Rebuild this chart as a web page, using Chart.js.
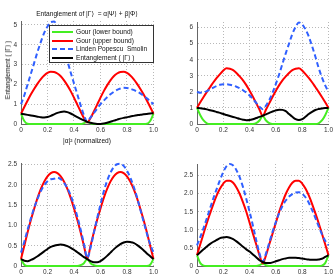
<!DOCTYPE html>
<html><head><meta charset="utf-8">
<script src="https://cdn.jsdelivr.net/npm/chart.js@4.4.1/dist/chart.umd.min.js"></script>
<style>
html,body{margin:0;padding:0;background:#fff;}
body{width:335px;height:275px;position:relative;overflow:hidden;font-family:"Liberation Sans",Arial,"DejaVu Sans",sans-serif;}
canvas{position:absolute;}
.t{position:absolute;white-space:nowrap;color:#111;font-size:6.6px;line-height:8px;}
#legend{position:absolute;left:49px;top:25px;width:103px;height:36px;border:1px solid #333;background:#fff;}
.li{position:absolute;left:0;height:8px;width:103px;}
.li svg{position:absolute;left:2px;top:0;}
.li span{position:absolute;left:26px;top:0;font-size:6.6px;line-height:8px;color:#111;white-space:nowrap;}
</style></head><body>
<canvas id="c0" width="160" height="140" style="left:0;top:0"></canvas>
<canvas id="c1" width="159" height="140" style="left:176px;top:0"></canvas>
<canvas id="c2" width="160" height="130" style="left:0;top:145px"></canvas>
<canvas id="c3" width="159" height="130" style="left:176px;top:145px"></canvas>

<div class="t" id="title" style="left:87px;top:10px;transform:translateX(-50%);">Entanglement of |Γ⟩ &nbsp;= α|Ψ⟩ + β|Φ⟩</div>
<div class="t" id="ylab" style="left:8px;top:70px;transform:translate(-50%,-50%) rotate(-90deg);">Entanglement ( |Γ⟩ )</div>
<div class="t" id="xlab" style="left:87px;top:137px;transform:translateX(-50%);">|α|² (normalized)</div>

<div id="legend">
  <div class="li" style="top:2px"><svg width="22" height="8"><line x1="0" y1="4" x2="21" y2="4" stroke="#44ee22" stroke-width="2"/></svg><span>Gour (lower bound)</span></div>
  <div class="li" style="top:10.5px"><svg width="22" height="8"><line x1="0" y1="4" x2="21" y2="4" stroke="#ff0000" stroke-width="2"/></svg><span>Gour (upper bound)</span></div>
  <div class="li" style="top:19px"><svg width="22" height="8"><line x1="0" y1="4" x2="21" y2="4" stroke="#3060ff" stroke-width="2" stroke-dasharray="5,3"/></svg><span>Linden Popescu &nbsp;Smolin</span></div>
  <div class="li" style="top:27.5px"><svg width="22" height="8"><line x1="0" y1="4" x2="21" y2="4" stroke="#000" stroke-width="2"/></svg><span>Entanglement ( |Γ⟩ )</span></div>
</div>

<script>
// x values: |alpha|^2 (normalized)
const alphaSq = [0,0.025,0.05,0.075,0.1,0.125,0.15,0.175,0.2,0.225,0.25,0.275,0.3,0.325,0.35,0.375,0.4,0.425,0.45,0.475,0.5,
  0.525,0.55,0.575,0.6,0.625,0.65,0.675,0.7,0.725,0.75,0.775,0.8,0.825,0.85,0.875,0.9,0.925,0.95,0.975,1];
const xTicks = [0,0.2,0.4,0.6,0.8,1];
const seriesNames = ['Gour (lower bound)','Gour (upper bound)','Linden Popescu  Smolin','Entanglement ( |Γ⟩ )'];

// ---- Top-left panel ----
const tlLower = [0.52,0.15,0.01,0,0,0,0,0,0,0,0,0,0,0,0,0,0,0,0,0.04,0.1,
  0.04,0,0,0,0,0,0,0,0,0,0,0,0,0,0,0,0,0.01,0.15,0.52];
const tlUpper = [0.52,0.86,1.19,1.5,1.78,2.04,2.27,2.45,2.58,2.64,2.63,2.55,2.41,2.2,1.95,1.66,1.33,0.98,0.63,0.3,0.08,
  0.3,0.63,0.98,1.33,1.66,1.95,2.2,2.41,2.55,2.63,2.64,2.58,2.45,2.27,2.04,1.78,1.5,1.19,0.86,0.52];
const tlLPS = [1.0,1.45,2.0,2.55,3.1,3.65,4.15,4.6,4.92,5.15,5.17,4.9,4.45,3.85,3.2,2.6,2.05,1.5,0.95,0.45,0.12,
  0.33,0.55,0.78,1.0,1.18,1.35,1.5,1.62,1.72,1.79,1.83,1.82,1.78,1.72,1.64,1.55,1.43,1.3,1.15,1.0];
const tlEnt = [0.52,0.49,0.46,0.43,0.4,0.37,0.34,0.33,0.35,0.41,0.49,0.56,0.61,0.63,0.6,0.53,0.44,0.35,0.26,0.18,0.11,
  0.06,0.02,0,0,0.02,0.06,0.11,0.17,0.22,0.27,0.31,0.34,0.38,0.41,0.44,0.47,0.49,0.51,0.53,0.54];

// ---- Top-right panel ----
const trLower = [1.0,0.55,0.22,0.04,0,0,0,0,0,0,0,0,0,0,0,0,0,0,0.05,0.22,0.5,
  0.22,0.05,0,0,0,0,0,0,0,0,0,0,0,0,0,0,0.04,0.22,0.55,1.0];
const trUpper = [1.0,1.35,1.68,2.0,2.3,2.6,2.87,3.1,3.33,3.47,3.44,3.35,3.18,2.96,2.72,2.42,2.07,1.7,1.3,0.9,0.5,
  0.9,1.3,1.7,2.07,2.42,2.72,2.96,3.18,3.35,3.44,3.47,3.33,3.1,2.87,2.6,2.3,2.0,1.68,1.35,1.0];
const trLPS = [2.0,1.95,1.97,2.05,2.15,2.27,2.37,2.44,2.47,2.47,2.44,2.39,2.32,2.22,2.1,1.95,1.78,1.56,1.32,1.08,0.92,
  1.15,1.5,1.95,2.5,3.1,3.75,4.4,5.0,5.6,6.05,6.32,6.2,5.9,5.45,4.85,4.2,3.5,2.9,2.4,2.0];
const trEnt = [1.0,0.98,0.95,0.91,0.86,0.81,0.75,0.69,0.62,0.56,0.5,0.44,0.38,0.32,0.27,0.24,0.25,0.3,0.37,0.44,0.52,
  0.6,0.69,0.78,0.85,0.89,0.88,0.8,0.62,0.45,0.3,0.25,0.3,0.45,0.62,0.76,0.87,0.93,0.97,0.99,1.0];

// ---- Bottom-left panel ----
const blLower = [0.17,0.03,0,0,0,0,0,0,0,0,0,0,0,0,0,0,0,0,0.02,0.07,0.17,
  0.07,0.02,0,0,0,0,0,0,0,0,0,0,0,0,0,0,0,0,0.03,0.17];
const blUpper = [0.17,0.5,0.83,1.14,1.42,1.68,1.9,2.08,2.21,2.29,2.32,2.29,2.21,2.08,1.9,1.68,1.42,1.14,0.83,0.5,0.17,
  0.5,0.83,1.14,1.42,1.68,1.9,2.08,2.21,2.29,2.32,2.29,2.21,2.08,1.9,1.68,1.42,1.14,0.83,0.5,0.17];
const blLPS = [0.33,0.6,0.9,1.18,1.44,1.66,1.85,1.99,2.09,2.14,2.15,2.18,2.14,2.05,1.92,1.74,1.5,1.22,0.9,0.55,0.2,
  0.45,0.82,1.18,1.52,1.84,2.1,2.3,2.44,2.51,2.52,2.47,2.35,2.18,1.96,1.7,1.4,1.1,0.8,0.54,0.33];
const blEnt = [0.17,0.13,0.12,0.15,0.19,0.24,0.3,0.36,0.42,0.47,0.5,0.52,0.53,0.52,0.49,0.45,0.4,0.34,0.28,0.22,0.17,
  0.12,0.09,0.09,0.12,0.18,0.25,0.33,0.41,0.48,0.54,0.58,0.6,0.59,0.57,0.52,0.46,0.39,0.31,0.24,0.17];

// ---- Bottom-right panel ----
const brLower = [0.3,0.08,0.01,0,0,0,0,0,0,0,0,0,0,0,0,0,0,0,0,0.02,0.07,
  0.02,0,0,0,0,0,0,0,0,0,0,0,0,0,0,0,0,0.01,0.08,0.3];
const brUpper = [0.3,0.6,0.9,1.19,1.46,1.72,1.95,2.14,2.28,2.36,2.36,2.3,2.17,1.99,1.76,1.5,1.2,0.9,0.6,0.3,0.07,
  0.3,0.6,0.9,1.2,1.5,1.76,1.99,2.17,2.3,2.36,2.36,2.28,2.14,1.95,1.72,1.46,1.19,0.9,0.6,0.3];
const brLPS = [0.57,0.8,1.05,1.32,1.6,1.88,2.13,2.38,2.6,2.76,2.82,2.78,2.65,2.45,2.18,1.85,1.5,1.12,0.72,0.35,0.12,
  0.35,0.65,0.95,1.22,1.46,1.66,1.81,1.92,1.99,2.03,2.04,2.0,1.9,1.75,1.55,1.33,1.1,0.88,0.7,0.57];
const brEnt = [0.3,0.38,0.46,0.54,0.61,0.67,0.72,0.77,0.79,0.8,0.78,0.74,0.68,0.61,0.53,0.46,0.4,0.32,0.24,0.16,0.11,
  0.08,0.08,0.1,0.13,0.16,0.19,0.21,0.23,0.23,0.23,0.22,0.21,0.19,0.18,0.17,0.17,0.18,0.2,0.25,0.3];

const FONT = '"Liberation Sans", Arial, sans-serif';
const COLORS = ['#44ee22','#ff0000','#3060ff','#000000'];

function pts(arr){ return alphaSq.map((x,i)=>({x:x,y:arr[i]})); }

function makePanel(id, lists, yMax, yStep, geom){
  const ds = lists.map((arr,k)=>({
    label: seriesNames[k],
    data: pts(arr),
    borderColor: COLORS[k],
    backgroundColor: COLORS[k],
    borderWidth: 2,
    borderDash: k===2 ? [5,3] : [],
    pointRadius: 0,
    fill: false,
    cubicInterpolationMode: 'monotone',
    clip: 6,
    order: 4-k
  }));
  const tickFont = {family: FONT, size: 6.5};
  return new Chart(document.getElementById(id), {
    type: 'line',
    data: {datasets: ds},
    options: {
      responsive: false, animation: false, devicePixelRatio: 1,
      layout: {padding: {top: geom.top, right: geom.right, left: 0, bottom: 0}},
      plugins: {legend: {display: false}, tooltip: {enabled: false}, title: {display: false}},
      scales: {
        x: {
          type: 'linear', min: 0, max: 1,
          afterBuildTicks: s => { s.ticks = xTicks.map(v => ({value: v})); },
          ticks: {padding: 2, color: '#333', font: tickFont, maxRotation: 0, autoSkip: false},
          grid: {color: '#b8b8b8', lineWidth: 1, drawTicks: false},
          border: {display: true, color: '#666', width: 1, dash: [1,2]},
          afterFit: s => { s.height = geom.xh; }
        },
        y: {
          type: 'linear', min: 0, max: yMax,
          ticks: {stepSize: yStep, includeBounds: false, padding: 4, color: '#333', font: tickFont},
          grid: {color: '#b8b8b8', lineWidth: 1, drawTicks: false},
          border: {display: true, color: '#666', width: 1, dash: [1,2]},
          afterFit: s => { s.width = geom.yw; }
        }
      }
    }
  });
}

makePanel('c0', [tlLower, tlUpper, tlLPS, tlEnt], 5.2, 1, {top: 21, right: 6, xh: 16, yw: 21});
makePanel('c1', [trLower, trUpper, trLPS, trEnt], 6.35, 1, {top: 22, right: 4, xh: 16, yw: 21});
makePanel('c2', [blLower, blUpper, blLPS, blEnt], 2.54, 0.5, {top: 18, right: 6, xh: 9, yw: 21});
makePanel('c3', [brLower, brUpper, brLPS, brEnt], 2.82, 0.5, {top: 19, right: 4, xh: 9, yw: 21});
</script>
</body></html>
